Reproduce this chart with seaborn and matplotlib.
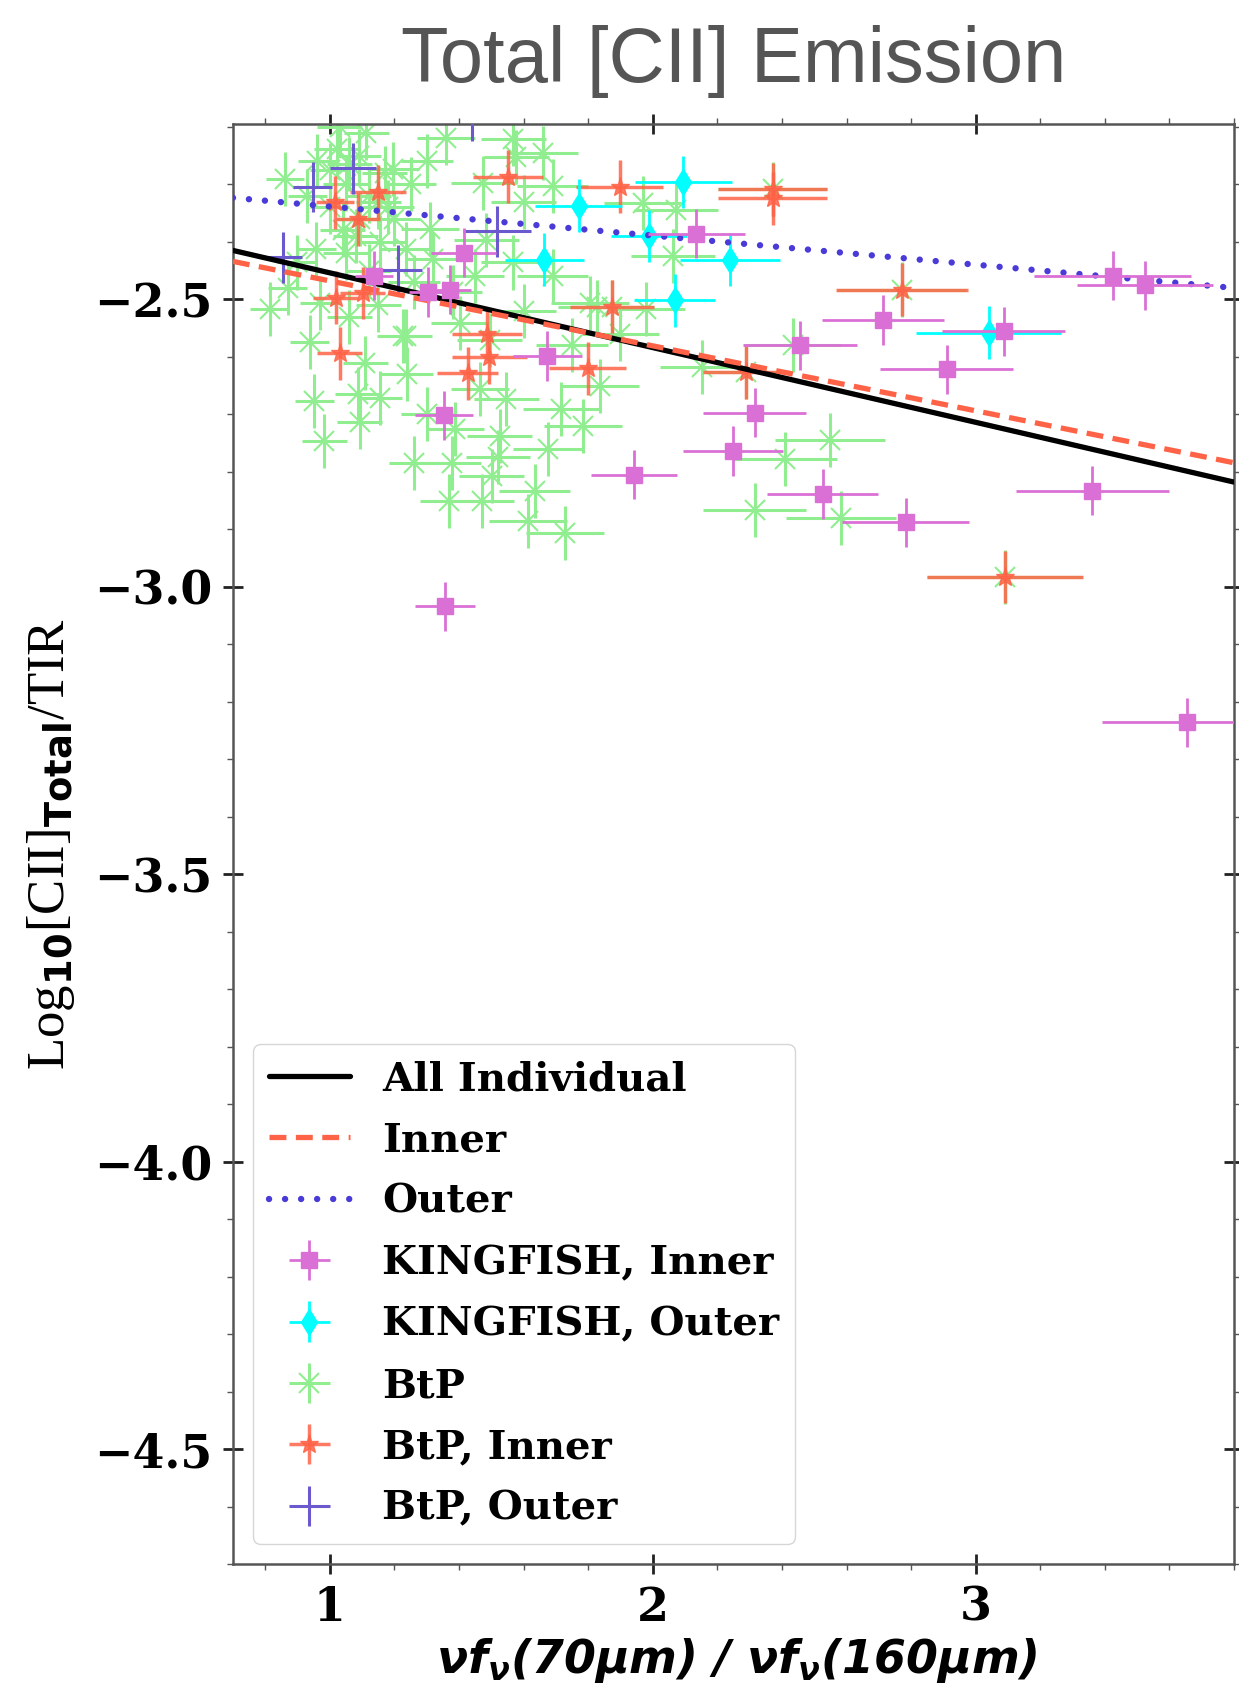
import numpy as np
import pandas as pd
import matplotlib
matplotlib.use("Agg")
import matplotlib.pyplot as plt
import seaborn as sns
from matplotlib.ticker import MultipleLocator

# ---------------- data ----------------
# KINGFISH, Inner
ki_x = [1.137, 1.304, 1.371, 1.414, 1.674, 1.354, 1.357, 1.942, 2.135, 2.249, 2.316,
        2.456, 2.526, 2.713, 2.783, 2.910, 3.087, 3.361, 3.424, 3.524, 3.654]
ki_y = [-2.459, -2.487, -2.483, -2.419, -2.599, -2.702, -3.034, -2.805, -2.386, -2.764, -2.697,
        -2.580, -2.839, -2.536, -2.888, -2.622, -2.556, -2.833, -2.459, -2.476, -3.236]
ki_xerr = [0.06, 0.06, 0.067, 0.10, 0.108, 0.09, 0.093, 0.134, 0.15, 0.155, 0.16,
           0.175, 0.172, 0.19, 0.197, 0.205, 0.19, 0.237, 0.242, 0.21, 0.264]
ki_yerr = 0.043

# KINGFISH, Outer
ko_x = [1.771, 1.664, 1.988, 2.095, 2.068, 2.239, 3.040]
ko_y = [-2.337, -2.431, -2.390, -2.296, -2.502, -2.431, -2.558]
ko_xerr = [0.135, 0.122, 0.117, 0.15, 0.125, 0.154, 0.225]
ko_yerr = 0.046

# BtP (all)
bt_x = [0.861, 1.021, 1.113, 1.196, 0.960, 1.050, 1.090, 1.150, 1.000, 1.093, 1.155, 1.237,
        1.320, 1.310, 0.958, 0.897, 1.050, 1.120, 1.200, 1.250, 1.300, 1.030,
        0.814, 0.938, 0.969, 0.870, 1.060, 1.150, 1.227, 1.382, 1.402, 1.495, 1.568, 1.691,
        1.805, 1.980, 1.260, 1.450, 1.600, 1.900, 1.750, 1.110, 1.240, 1.236,
        0.952, 1.087, 1.154, 1.092, 0.983, 1.262, 1.370, 1.464, 1.547, 1.387, 1.526, 1.521,
        1.717, 1.784, 1.676, 1.377, 1.501, 1.470, 1.635, 1.614, 1.728, 1.836, 1.300,
        1.568, 1.660, 1.578, 1.475, 1.691, 1.970, 2.073, 2.063, 1.485, 1.826, 1.600, 1.360,
        2.434, 2.151, 2.548, 2.409, 2.316, 2.584,
        2.371, 2.771, 3.090, 2.290, 1.873,
        1.000, 1.060, 1.120, 1.180, 0.930, 1.080, 1.170, 1.040]
bt_y = [-2.291, -2.239, -2.210, -2.274, -2.260, -2.300, -2.250, -2.330, -2.340, -2.361, -2.401, -2.413,
        -2.430, -2.378, -2.413, -2.436, -2.420, -2.450, -2.360, -2.300, -2.260, -2.200,
        -2.517, -2.575, -2.506, -2.480, -2.530, -2.510, -2.564, -2.488, -2.541, -2.570, -2.436, -2.459,
        -2.506, -2.517, -2.470, -2.460, -2.520, -2.560, -2.580, -2.610, -2.630, -2.564,
        -2.677, -2.665, -2.671, -2.714, -2.746, -2.784, -2.851, -2.656, -2.674, -2.726, -2.737, -2.775,
        -2.691, -2.720, -2.761, -2.784, -2.807, -2.851, -2.833, -2.885, -2.906, -2.651, -2.700,
        -2.222, -2.245, -2.252, -2.297, -2.303, -2.332, -2.344, -2.425, -2.397, -2.513, -2.330, -2.220,
        -2.579, -2.617, -2.745, -2.777, -2.866, -2.881,
        -2.309, -2.483, -2.983, -2.627, -2.513,
        -2.275, -2.265, -2.320, -2.340, -2.320, -2.390, -2.280, -2.380]
bt_xerr = [0.06, 0.07, 0.07, 0.08, 0.06, 0.07, 0.07, 0.07, 0.06, 0.07, 0.08, 0.08,
           0.08, 0.09, 0.06, 0.06, 0.07, 0.07, 0.08, 0.08, 0.08, 0.07,
           0.06, 0.06, 0.06, 0.06, 0.07, 0.07, 0.08, 0.09, 0.09, 0.10, 0.10, 0.11,
           0.12, 0.12, 0.08, 0.09, 0.10, 0.12, 0.11, 0.07, 0.08, 0.08,
           0.06, 0.07, 0.07, 0.07, 0.07, 0.08, 0.09, 0.09, 0.10, 0.09, 0.10, 0.10,
           0.12, 0.12, 0.11, 0.09, 0.10, 0.10, 0.11, 0.12, 0.12, 0.12, 0.08,
           0.10, 0.11, 0.10, 0.10, 0.11, 0.12, 0.13, 0.13, 0.10, 0.12, 0.10, 0.09,
           0.15, 0.13, 0.17, 0.16, 0.16, 0.17,
           0.17, 0.20, 0.24, 0.13, 0.13,
           0.06, 0.07, 0.07, 0.08, 0.06, 0.07, 0.07, 0.07]
bt_yerr = 0.047

# BtP, Inner
bi_x = [1.017, 1.149, 1.087, 1.018, 1.102, 1.030, 1.486, 1.494, 1.427, 1.798, 1.551, 1.898,
        1.873, 2.371, 2.371, 2.771, 2.290, 3.090]
bi_y = [-2.331, -2.313, -2.361, -2.497, -2.489, -2.594, -2.560, -2.601, -2.629, -2.620, -2.287, -2.304,
        -2.513, -2.309, -2.324, -2.483, -2.627, -2.983]
bi_xerr = [0.059, 0.088, 0.067, 0.07, 0.07, 0.07, 0.108, 0.116, 0.095, 0.12, 0.108, 0.135,
           0.13, 0.17, 0.17, 0.204, 0.134, 0.242]
bi_yerr = 0.046

# BtP, Outer
bo_x = [0.947, 1.072, 0.855, 1.210, 1.518, 1.440]
bo_y = [-2.305, -2.272, -2.427, -2.449, -2.382, -2.180]
bo_xerr = [0.06, 0.072, 0.06, 0.077, 0.106, 0.06]
bo_yerr = 0.044

# Linear fits (intercept, slope)
fit_labels = ["All Individual", "Inner", "Outer"]
fit_intercepts = [-2.324, -2.355, -2.288]
fit_slopes = [-0.130, -0.113, -0.0506]

x_limits = (0.70, 3.80)
y_limits = (-4.70, -2.195)

# ---------------- style ----------------
sns.set_theme(style="ticks")
plt.rcParams["font.family"] = ["DejaVu Serif", "DejaVu Sans"]
plt.rcParams["mathtext.fontset"] = "custom"
plt.rcParams["mathtext.it"] = "DejaVu Sans:italic:bold"
plt.rcParams["mathtext.rm"] = "DejaVu Sans:italic:bold"
plt.rcParams["mathtext.bf"] = "DejaVu Sans:bold"
plt.rcParams["text.color"] = "black"
plt.rcParams["axes.labelcolor"] = "black"
plt.rcParams["xtick.labelcolor"] = "black"
plt.rcParams["ytick.labelcolor"] = "black"

fig = plt.figure(figsize=(12.39, 16.91), dpi=100)
ax = fig.add_axes([0.188, 0.0751, 0.808, 0.8516])

# fit lines via seaborn
fit_x = np.array(x_limits)
line_styles = [dict(color="black", linestyle="-", linewidth=3.8),
               dict(color="tomato", linestyle=(0, (3.2, 1.8)), linewidth=3.8),
               dict(color="#4a3bd8", linestyle=(0, (0.01, 2.5)), linewidth=4.6,
                    dash_capstyle="round")]
for lab, b, m, st in zip(fit_labels, fit_intercepts, fit_slopes, line_styles):
    df = pd.DataFrame({"x": fit_x, "y": b + m * fit_x})
    sns.lineplot(data=df, x="x", y="y", label=lab, ax=ax, zorder=6, **st)

# error-bar series
ax.errorbar(ki_x, ki_y, xerr=ki_xerr, yerr=ki_yerr, fmt="s", color="orchid", ms=12,
            elinewidth=2, capsize=0, label="KINGFISH, Inner", zorder=7)
ax.errorbar(ko_x, ko_y, xerr=ko_xerr, yerr=ko_yerr, fmt="d", color="cyan", ms=13,
            elinewidth=2, capsize=0, label="KINGFISH, Outer", zorder=5)
ax.errorbar(bt_x, bt_y, xerr=bt_xerr, yerr=bt_yerr, fmt="x", color="lightgreen", ms=14,
            mew=1.5, elinewidth=2.2, capsize=0, label="BtP", zorder=2)
ax.errorbar(bi_x, bi_y, xerr=bi_xerr, yerr=bi_yerr, fmt="*", color="tomato", ms=14,
            elinewidth=2.5, capsize=0, alpha=0.85, label="BtP, Inner", zorder=4)
ax.errorbar(bo_x, bo_y, xerr=bo_xerr, yerr=bo_yerr, fmt="none", ecolor="#6a5acd",
            elinewidth=2.2, capsize=0, label="BtP, Outer", zorder=4)

ax.set_xlim(*x_limits)
ax.set_ylim(*y_limits)

ax.xaxis.set_major_locator(MultipleLocator(1))
ax.xaxis.set_minor_locator(MultipleLocator(0.2))
ax.yaxis.set_major_locator(MultipleLocator(0.5))
ax.yaxis.set_minor_locator(MultipleLocator(0.1))
ax.tick_params(which="major", direction="inout", length=14, width=2, color="#222222",
               top=True, right=True, labelsize=33, pad=8)
ax.tick_params(which="minor", direction="out", length=4, width=1, color="#555555",
               top=True, right=True)
for lbl in ax.get_xticklabels() + ax.get_yticklabels():
    lbl.set_fontweight("bold")
    lbl.set_fontfamily("DejaVu Serif")
for sp in ax.spines.values():
    sp.set_color("#555555")
    sp.set_linewidth(1.8)

ax.set_title("Total [CII] Emission", fontsize=56, color="#555555",
             fontfamily="Liberation Sans", pad=30)
ax.set_xlabel(r"$\nu f_{\nu}(70\mu m)$ / $\nu f_{\nu}(160\mu m)$", fontsize=33,
              fontfamily="DejaVu Sans", fontweight="bold", fontstyle="italic")
ax.xaxis.set_label_coords(0.503, -0.050)
ax.set_ylabel(r"Log$_{\mathbf{10}}$[CII]$_{\mathbf{Total}}$/TIR", fontsize=38,
              fontfamily="Liberation Serif", labelpad=12)

leg = ax.legend(loc="lower left", prop={"family": "DejaVu Serif", "weight": "bold", "size": 29},
                frameon=True, fancybox=True, edgecolor="#cccccc", framealpha=0.8,
                handlelength=2.0, labelspacing=0.58)
for t in leg.get_texts():
    t.set_color("black")

fig.savefig("out.png", dpi=100)
